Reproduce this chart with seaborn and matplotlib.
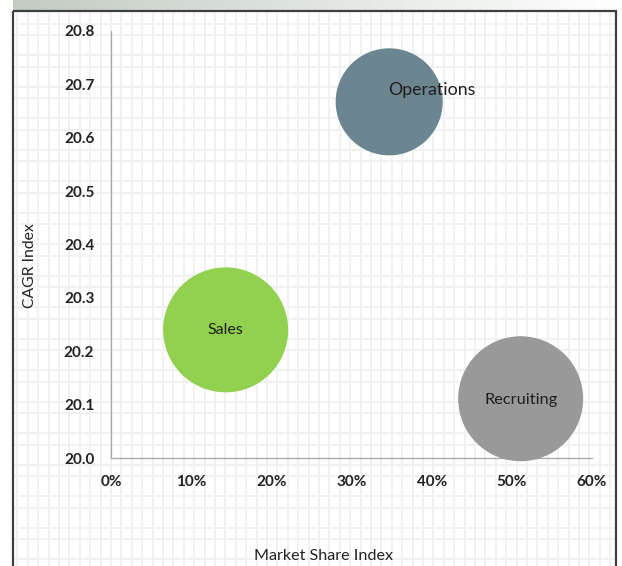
import numpy as np
import pandas as pd
import matplotlib
matplotlib.use("Agg")
import matplotlib.pyplot as plt
from matplotlib.patches import Rectangle
import seaborn as sns

# ---- data ----
categories = ["Operations", "Sales", "Recruiting"]
market_share = [34.7, 14.3, 51.1]      # percent
cagr_index = [20.667, 20.240, 20.111]
bubble_size = [22, 30, 30]
colors = ["#6C8691", "#92D050", "#999999"]
x_ticks = [0, 10, 20, 30, 40, 50, 60]
x_tick_labels = ["0%", "10%", "20%", "30%", "40%", "50%", "60%"]
y_ticks = [20.0, 20.1, 20.2, 20.3, 20.4, 20.5, 20.6, 20.7, 20.8]
y_tick_labels = ["20.0", "20.1", "20.2", "20.3", "20.4", "20.5", "20.6", "20.7", "20.8"]

df = pd.DataFrame({"cat": categories, "x": market_share, "y": cagr_index, "s": bubble_size})

sns.set_theme(style="white")
plt.rcParams["font.family"] = ["Lato", "DejaVu Sans"]

W, H = 622, 566
fig = plt.figure(figsize=(W / 100, H / 100), dpi=100)
fig.patch.set_facecolor("white")

# ---- background decoration (frame, texture, banner) ----
bg = fig.add_axes([0, 0, 1, 1], zorder=-5)
bg.set_xlim(0, W)
bg.set_ylim(H, 0)
bg.axis("off")
grad = np.linspace(0, 1, 256)[None, :]
c0 = np.array([0.76, 0.80, 0.76])
img = c0[None, None, :] * (1 - grad[..., None]) + np.ones(3)[None, None, :] * grad[..., None]
bg.imshow(img, extent=(13, W, 10, 0), aspect="auto", zorder=0)
gc = "#F1F1F1"
for xv in np.arange(17.3, 616, 10.4):
    bg.plot([xv, xv], [12, H], color=gc, lw=1.4, zorder=1, solid_capstyle="butt")
for base in np.arange(496 - 31.5 * 16, H + 5, 31.5):
    for yv in (base, base + 11.5):
        if 12 < yv < H:
            bg.plot([14, 615], [yv, yv], color=gc, lw=1.4, zorder=1, solid_capstyle="butt")
bg.add_patch(Rectangle((13, 11), 603, H, fill=False, edgecolor="#3F3F3F", lw=1.6, zorder=3))

# ---- main chart ----
left, right = 111 / W, 592 / W
bottom, top = 1 - 458 / H, 1 - 30.8 / H
ax = fig.add_axes([left, bottom, right - left, top - bottom])
ax.patch.set_alpha(0)

sns.scatterplot(data=df, x="x", y="y", hue="cat", palette=dict(zip(categories, colors)),
                size="s", sizes=(0, 8100), size_norm=(0, 30), linewidth=0, alpha=1,
                legend=False, ax=ax, clip_on=False, zorder=3)

ax.set_xlim(0, 60)
ax.set_ylim(20.0, 20.8)
ax.set_xticks(x_ticks)
ax.set_xticklabels(x_tick_labels)
ax.set_yticks(y_ticks)
ax.set_yticklabels(y_tick_labels)
ax.tick_params(axis="both", length=0, labelsize=11, colors="#222222")
ax.tick_params(axis="y", pad=12)
ax.tick_params(axis="x", pad=12)
for lab in ax.get_xticklabels() + ax.get_yticklabels():
    lab.set_fontweight("bold")
for s in ("top", "right"):
    ax.spines[s].set_visible(False)
for s in ("left", "bottom"):
    ax.spines[s].set_color("#A6A6A6")
    ax.spines[s].set_linewidth(0.9)
ax.set_xlabel("")
ax.set_ylabel("")

# bubble labels
offsets = {"Operations": (-1, 12, "left"), "Sales": (0, 0, "center"), "Recruiting": (0, -1, "center")}
sizes_txt = {"Operations": 12.8, "Sales": 11.5, "Recruiting": 11.8}
for c, xv, yv in zip(categories, market_share, cagr_index):
    dx, dy, ha = offsets[c]
    ax.annotate(c, (xv, yv), xytext=(dx, dy), textcoords="offset pixels",
                ha=ha, va="center", fontsize=sizes_txt[c], color="#1E1E1E", zorder=5)

fig.text(30 / W, 1 - 266 / H, "CAGR Index", rotation=90, ha="center", va="center",
         fontsize=11.3, color="#222222")
fig.text(324 / W, 1 - 556 / H, "Market Share Index", ha="center", va="center",
         fontsize=11.6, color="#222222")

fig.savefig("out.png", dpi=100, facecolor="white")
